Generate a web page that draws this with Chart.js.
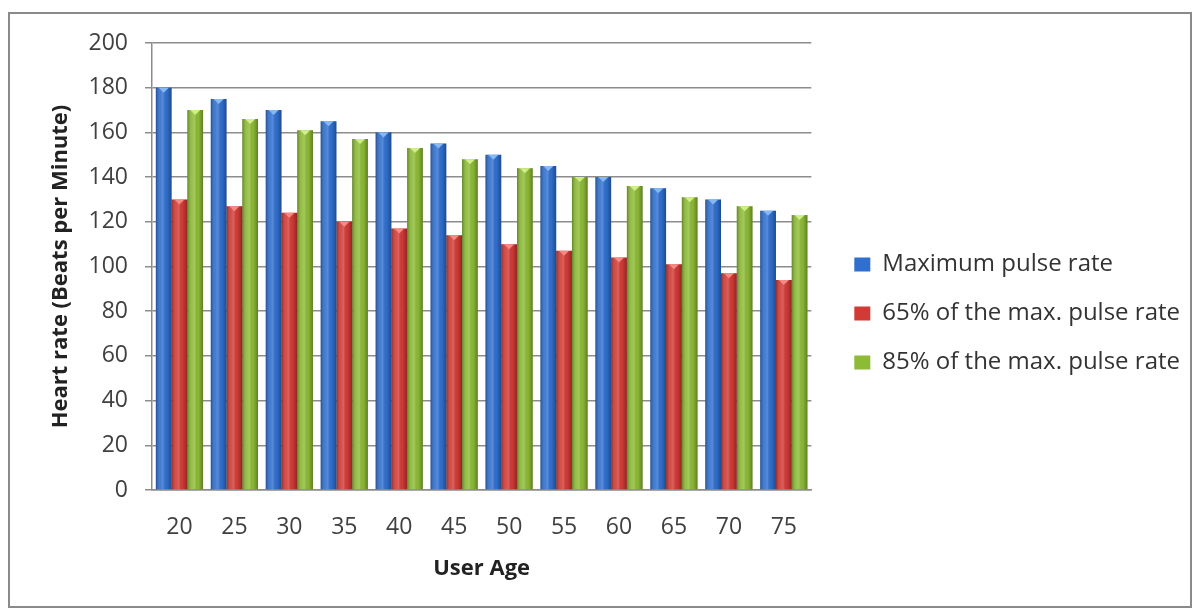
<!DOCTYPE html>
<html>
<head>
<meta charset="utf-8">
<script src="https://cdn.jsdelivr.net/npm/chart.js@4.4.1/dist/chart.umd.min.js"></script>
<style>
    body { margin: 0; background: #fff; }
    #wrap { position: relative; width: 1194px; height: 610px; }
    #frame {
        position: absolute; left: 8px; top: 12px; width: 1180px; height: 592px;
        border: 2px solid #8a8a8a; pointer-events: none;
    }
</style>
</head>
<body>
<div id="wrap">
    <canvas id="pulseChart" width="1194" height="610"></canvas>
    <div id="frame"></div>
</div>
<script>
const ages = ['20', '25', '30', '35', '40', '45', '50', '55', '60', '65', '70', '75'];
const maxPulse = [180, 175, 170, 165, 160, 155, 150, 145, 140, 135, 130, 125];
const pulse65 = [130, 127, 124, 120, 117, 114, 110, 107, 104, 101, 97, 94];
const pulse85 = [170, 166, 161, 157, 153, 148, 144, 140, 136, 131, 127, 123];
const yTicks = [0, 20, 40, 60, 80, 100, 120, 140, 160, 180, 200];

const fontFamily = "'Open Sans', sans-serif";

// lighter "cap" colour drawn at the top of each bar
const capColors = ['#86b8f4', '#f58a84', '#cfee86'];

// fake the cylinder look of the original bars
const barShading = {
    id: 'barShading',
    afterDatasetsDraw(chart) {
        const ctx = chart.ctx;
        chart.data.datasets.forEach((ds, i) => {
            const meta = chart.getDatasetMeta(i);
            meta.data.forEach(bar => {
                const { x, y, base, width } = bar.getProps(['x', 'y', 'base', 'width'], true);
                const left = x - width / 2;
                const g = ctx.createLinearGradient(left, 0, left + width, 0);
                g.addColorStop(0, 'rgba(0,0,0,0.30)');
                g.addColorStop(0.3, 'rgba(255,255,255,0.10)');
                g.addColorStop(0.45, 'rgba(255,255,255,0.20)');
                g.addColorStop(0.7, 'rgba(0,0,0,0.02)');
                g.addColorStop(1, 'rgba(0,0,0,0.32)');
                ctx.save();
                ctx.fillStyle = g;
                ctx.fillRect(left, y, width, base - y);
                ctx.fillStyle = capColors[i];
                ctx.beginPath();
                ctx.moveTo(x - width * 0.32, y);
                ctx.lineTo(x + width * 0.32, y);
                ctx.lineTo(x, y + 5);
                ctx.closePath();
                ctx.fill();
                ctx.restore();
            });
        });
    }
};

new Chart(document.getElementById('pulseChart').getContext('2d'), {
    type: 'bar',
    data: {
        labels: ages,
        datasets: [
            { label: 'Maximum pulse rate', data: maxPulse, backgroundColor: '#2f6fcf' },
            { label: '65% of the max. pulse rate', data: pulse65, backgroundColor: '#d23a35' },
            { label: '85% of the max. pulse rate', data: pulse85, backgroundColor: '#8dbb35' }
        ]
    },
    options: {
        responsive: false,
        animation: false,
        devicePixelRatio: 1,
        categoryPercentage: 0.86,
        barPercentage: 1.0,
        layout: { padding: { left: 40, top: 43, right: 4, bottom: 26 } },
        plugins: {
            tooltip: { enabled: false },
            legend: {
                position: 'right',
                maxWidth: 420,
                labels: {
                    color: '#333',
                    boxWidth: 16,
                    boxHeight: 14,
                    padding: 25,
                    font: { family: fontFamily, size: 24 }
                }
            }
        },
        scales: {
            x: {
                grid: { display: false },
                border: { display: true, color: '#8c8c8c', width: 1.5 },
                ticks: { color: '#404040', padding: 16, font: { family: fontFamily, size: 23 } },
                title: {
                    display: true,
                    text: 'User Age',
                    color: '#222',
                    padding: { top: 4, bottom: 2 },
                    font: { family: fontFamily, size: 22, weight: 'bold' }
                },
                afterFit(scale) { scale.height = 94; }
            },
            y: {
                min: 0,
                max: 200,
                afterBuildTicks(scale) { scale.ticks = yTicks.map(v => ({ value: v })); },
                grid: { color: '#8c8c8c', lineWidth: 1.5, tickLength: 7 },
                border: { display: true, color: '#8c8c8c', width: 1.5 },
                ticks: { color: '#404040', padding: 17, font: { family: fontFamily, size: 23 } },
                title: {
                    display: true,
                    text: 'Heart rate (Beats per Minute)',
                    color: '#222',
                    padding: { top: 8, bottom: 0 },
                    font: { family: fontFamily, size: 22, weight: 'bold' }
                },
                afterFit(scale) { scale.width = 112; }
            },
            gap: {
                type: 'linear',
                position: 'right',
                grid: { display: false, drawTicks: false },
                border: { display: false },
                ticks: { display: false },
                afterFit(scale) { scale.width = 18; }
            }
        }
    },
    plugins: [barShading]
});
</script>
</body>
</html>
